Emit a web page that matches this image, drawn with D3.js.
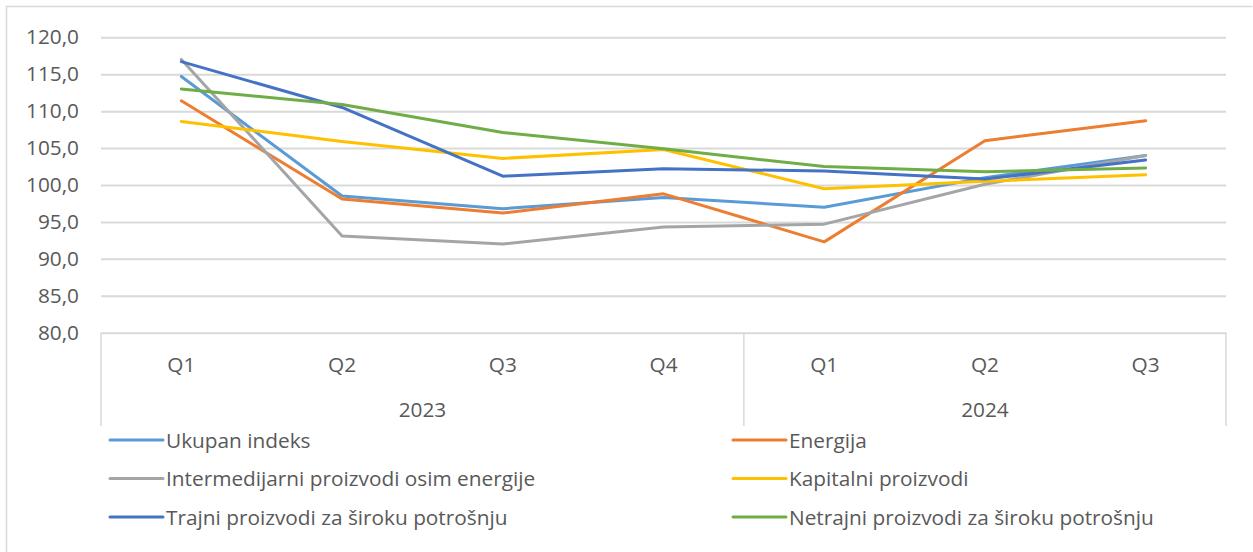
<!DOCTYPE html>
<html>
<head>
<meta charset="utf-8">
<script src="https://cdn.jsdelivr.net/npm/d3@7"></script>
<style>
  body { margin: 0; background: #fff; }
  text { font-family: 'Open Sans', sans-serif; fill: #595959; }
</style>
</head>
<body>
<div id="chart"></div>
<script>
// categories
const years = ['2023', '2023', '2023', '2023', '2024', '2024', '2024']
const quarters = ['Q1', 'Q2', 'Q3', 'Q4', 'Q1', 'Q2', 'Q3']
const yTicks = [80, 85, 90, 95, 100, 105, 110, 115, 120]

// series values
const ukupanIndeks = [114.7, 98.5, 96.8, 98.3, 97.0, 101.0, 104.0]
const energija = [111.4, 98.1, 96.2, 98.8, 92.3, 106.0, 108.7]
const intermedijarni = [117.0, 93.1, 92.0, 94.3, 94.7, 100.1, 104.0]
const kapitalni = [108.6, 105.9, 103.6, 104.8, 99.5, 100.5, 101.4]
const trajni = [116.7, 110.5, 101.2, 102.2, 101.9, 100.8, 103.4]
const netrajni = [113.0, 110.9, 107.1, 104.9, 102.5, 101.8, 102.3]

const seriesNames = [
  'Ukupan indeks', 'Energija',
  'Intermedijarni proizvodi osim energije', 'Kapitalni proizvodi',
  'Trajni proizvodi za široku potrošnju', 'Netrajni proizvodi za široku potrošnju'
]
const seriesValues = [ukupanIndeks, energija, intermedijarni, kapitalni, trajni, netrajni]
const colors = ['#5B9BD5', '#ED7D31', '#A5A5A5', '#FFC000', '#4472C4', '#70AD47']

const width = 1253
const height = 552
const plotLeft = 101
const plotRight = 1226
const plotTop = 37.3
const plotBottom = 332.7
const fontSize = '20.8px'

const keys = quarters.map((q, i) => years[i] + '-' + q)

const svg = d3.select('#chart')
  .append('svg')
  .attr('width', width)
  .attr('height', height)
  .attr('viewBox', [0, 0, width, height])

// chart area border (top and left only visible)
svg.append('path')
  .attr('d', `M6.5,${height}V6.5H1252.5`)
  .attr('fill', 'none')
  .attr('stroke', '#d9d9d9')
  .attr('stroke-width', 1.5)

const x = d3.scaleBand().domain(keys).range([plotLeft, plotRight])
const y = d3.scaleLinear().domain([80, 120]).range([plotBottom, plotTop])
const cx = k => x(k) + x.bandwidth() / 2

// y axis with gridlines
const fmt = d => d3.format('.1f')(d).replace('.', ',')
const yAxis = svg.append('g')
  .attr('transform', `translate(${plotLeft},0)`)
  .call(d3.axisLeft(y).tickValues(yTicks).tickFormat(fmt)
    .tickSizeInner(-(plotRight - plotLeft)).tickSizeOuter(0).tickPadding(22))
yAxis.select('.domain').remove()
yAxis.selectAll('line').attr('stroke', '#d9d9d9').attr('stroke-width', 2)
yAxis.selectAll('text')
  .style('font-size', fontSize)
  .attr('fill', '#595959')
  .attr('font-family', "'Open Sans', sans-serif")

// category axis: quarters and year groups
const catBottom = 426
const groupEdges = [0, 4, 7].map(i => plotLeft + i * x.bandwidth())
svg.selectAll('.sep')
  .data(groupEdges)
  .enter()
  .append('line')
  .attr('x1', d => d).attr('x2', d => d)
  .attr('y1', plotBottom).attr('y2', catBottom)
  .attr('stroke', '#d9d9d9')
  .attr('stroke-width', 1.5)

svg.selectAll('.qlabel')
  .data(keys)
  .enter()
  .append('text')
  .attr('x', d => cx(d))
  .attr('y', 372)
  .attr('text-anchor', 'middle')
  .style('font-size', fontSize)
  .text((d, i) => quarters[i])

const yearGroups = d3.groups(keys, k => k.split('-')[0])
svg.selectAll('.ylabel')
  .data(yearGroups)
  .enter()
  .append('text')
  .attr('x', d => (cx(d[1][0]) + cx(d[1][d[1].length - 1])) / 2)
  .attr('y', 417)
  .attr('text-anchor', 'middle')
  .style('font-size', fontSize)
  .text(d => d[0])

// lines
const line = d3.line()
  .x((d, i) => cx(keys[i]))
  .y(d => y(d))

svg.selectAll('.series')
  .data(seriesValues)
  .enter()
  .append('path')
  .attr('d', d => line(d))
  .attr('fill', 'none')
  .attr('stroke', (d, i) => colors[i])
  .attr('stroke-width', 3)
  .attr('stroke-linejoin', 'round')
  .attr('stroke-linecap', 'round')

// legend, two columns
const legend = svg.selectAll('.legend')
  .data(seriesNames)
  .enter()
  .append('g')
  .attr('transform', (d, i) => `translate(${i % 2 === 0 ? 110 : 733},${440 + Math.floor(i / 2) * 38.5})`)

legend.append('line')
  .attr('x1', 0).attr('x2', 53)
  .attr('stroke', (d, i) => colors[i])
  .attr('stroke-width', 3)
  .attr('stroke-linecap', 'round')

legend.append('text')
  .attr('x', 56)
  .attr('y', 7.5)
  .style('font-size', fontSize)
  .text(d => d)
</script>
</body>
</html>
